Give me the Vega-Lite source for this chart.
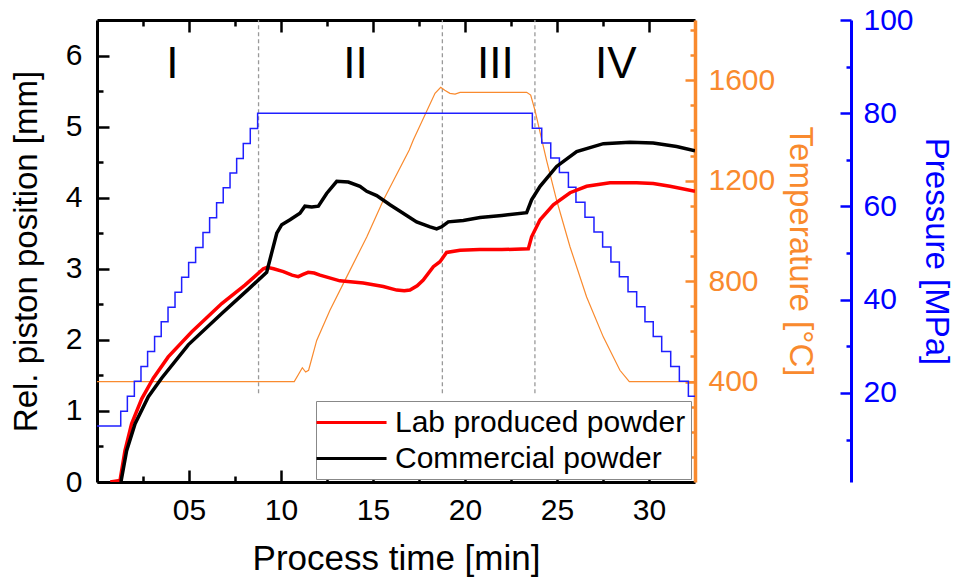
{
  "$schema": "https://vega.github.io/schema/vega-lite/v6.json",
  "width": 598,
  "height": 462,
  "autosize": {"type": "none"},
  "padding": {"left": 97, "top": 20, "right": 261, "bottom": 97},
  "background": "white",
  "config": {
    "font": "Liberation Sans",
    "view": {"stroke": null},
    "axis": {"grid": false, "labelFont": "Liberation Sans", "titleFont": "Liberation Sans", "titleFontWeight": "normal", "labelFontSize": 30, "titleFontSize": 33, "labelColor": "black", "titleColor": "black"}
  },
  "datasets": {
    "phases": [
      {"t": 8.78, "y0": 1.25, "y1": 6.5},
      {"t": 18.77, "y0": 1.25, "y1": 6.5},
      {"t": 23.8, "y0": 1.25, "y1": 6.5}
    ],
    "numerals": [
      {"t": 4.1, "y": 5.69, "label": "I"},
      {"t": 14.05, "y": 5.69, "label": "II"},
      {"t": 21.65, "y": 5.69, "label": "III"},
      {"t": 28.2, "y": 5.69, "label": "IV"}
    ],
    "piston": [
      {"s": "Lab produced powder", "t": 0.72, "v": 0},
      {"s": "Lab produced powder", "t": 1.25, "v": 0.02},
      {"s": "Lab produced powder", "t": 1.52, "v": 0.44},
      {"s": "Lab produced powder", "t": 1.88, "v": 0.82},
      {"s": "Lab produced powder", "t": 2.43, "v": 1.17},
      {"s": "Lab produced powder", "t": 3.06, "v": 1.46},
      {"s": "Lab produced powder", "t": 3.87, "v": 1.76},
      {"s": "Lab produced powder", "t": 5.14, "v": 2.11},
      {"s": "Lab produced powder", "t": 6.78, "v": 2.51},
      {"s": "Lab produced powder", "t": 8.04, "v": 2.77},
      {"s": "Lab produced powder", "t": 9.04, "v": 3.0},
      {"s": "Lab produced powder", "t": 9.25, "v": 3.02},
      {"s": "Lab produced powder", "t": 9.6, "v": 3.0},
      {"s": "Lab produced powder", "t": 10.13, "v": 2.96},
      {"s": "Lab produced powder", "t": 10.6, "v": 2.91},
      {"s": "Lab produced powder", "t": 10.94, "v": 2.89},
      {"s": "Lab produced powder", "t": 11.2, "v": 2.92},
      {"s": "Lab produced powder", "t": 11.48, "v": 2.95},
      {"s": "Lab produced powder", "t": 11.8, "v": 2.94},
      {"s": "Lab produced powder", "t": 12.12, "v": 2.91},
      {"s": "Lab produced powder", "t": 13.2, "v": 2.83},
      {"s": "Lab produced powder", "t": 14.47, "v": 2.8},
      {"s": "Lab produced powder", "t": 15.56, "v": 2.75},
      {"s": "Lab produced powder", "t": 16.29, "v": 2.7},
      {"s": "Lab produced powder", "t": 16.7, "v": 2.69},
      {"s": "Lab produced powder", "t": 17.01, "v": 2.7},
      {"s": "Lab produced powder", "t": 17.4, "v": 2.76},
      {"s": "Lab produced powder", "t": 17.73, "v": 2.84},
      {"s": "Lab produced powder", "t": 18.28, "v": 3.03},
      {"s": "Lab produced powder", "t": 18.64, "v": 3.1},
      {"s": "Lab produced powder", "t": 19.0, "v": 3.23},
      {"s": "Lab produced powder", "t": 19.73, "v": 3.26},
      {"s": "Lab produced powder", "t": 20.8, "v": 3.27},
      {"s": "Lab produced powder", "t": 22.0, "v": 3.27},
      {"s": "Lab produced powder", "t": 23.44, "v": 3.28},
      {"s": "Lab produced powder", "t": 23.62, "v": 3.45},
      {"s": "Lab produced powder", "t": 24.08, "v": 3.69},
      {"s": "Lab produced powder", "t": 24.8, "v": 3.9},
      {"s": "Lab produced powder", "t": 25.71, "v": 4.07},
      {"s": "Lab produced powder", "t": 26.61, "v": 4.16},
      {"s": "Lab produced powder", "t": 27.88, "v": 4.21},
      {"s": "Lab produced powder", "t": 29.33, "v": 4.21},
      {"s": "Lab produced powder", "t": 30.23, "v": 4.2},
      {"s": "Lab produced powder", "t": 31.14, "v": 4.16},
      {"s": "Lab produced powder", "t": 32.5, "v": 4.09},
      {"s": "Commercial powder", "t": 1.3, "v": 0.0},
      {"s": "Commercial powder", "t": 1.61, "v": 0.44},
      {"s": "Commercial powder", "t": 2.07, "v": 0.82},
      {"s": "Commercial powder", "t": 2.79, "v": 1.2},
      {"s": "Commercial powder", "t": 3.51, "v": 1.46},
      {"s": "Commercial powder", "t": 4.96, "v": 1.93},
      {"s": "Commercial powder", "t": 6.78, "v": 2.37},
      {"s": "Commercial powder", "t": 8.22, "v": 2.71},
      {"s": "Commercial powder", "t": 9.22, "v": 2.95},
      {"s": "Commercial powder", "t": 9.49, "v": 3.22},
      {"s": "Commercial powder", "t": 9.77, "v": 3.5},
      {"s": "Commercial powder", "t": 10.04, "v": 3.62},
      {"s": "Commercial powder", "t": 10.49, "v": 3.69},
      {"s": "Commercial powder", "t": 11.03, "v": 3.78},
      {"s": "Commercial powder", "t": 11.3, "v": 3.88},
      {"s": "Commercial powder", "t": 11.67, "v": 3.87},
      {"s": "Commercial powder", "t": 12.03, "v": 3.88},
      {"s": "Commercial powder", "t": 12.48, "v": 4.06},
      {"s": "Commercial powder", "t": 13.03, "v": 4.23},
      {"s": "Commercial powder", "t": 13.66, "v": 4.22},
      {"s": "Commercial powder", "t": 14.29, "v": 4.16},
      {"s": "Commercial powder", "t": 14.66, "v": 4.09},
      {"s": "Commercial powder", "t": 15.2, "v": 4.03},
      {"s": "Commercial powder", "t": 15.92, "v": 3.9},
      {"s": "Commercial powder", "t": 16.47, "v": 3.81},
      {"s": "Commercial powder", "t": 17.37, "v": 3.66},
      {"s": "Commercial powder", "t": 18.1, "v": 3.59},
      {"s": "Commercial powder", "t": 18.46, "v": 3.56},
      {"s": "Commercial powder", "t": 18.73, "v": 3.59},
      {"s": "Commercial powder", "t": 19.09, "v": 3.66},
      {"s": "Commercial powder", "t": 19.91, "v": 3.68},
      {"s": "Commercial powder", "t": 20.82, "v": 3.72},
      {"s": "Commercial powder", "t": 22.0, "v": 3.75},
      {"s": "Commercial powder", "t": 23.35, "v": 3.79},
      {"s": "Commercial powder", "t": 23.62, "v": 3.97},
      {"s": "Commercial powder", "t": 24.08, "v": 4.16},
      {"s": "Commercial powder", "t": 24.98, "v": 4.44},
      {"s": "Commercial powder", "t": 26.07, "v": 4.65},
      {"s": "Commercial powder", "t": 27.52, "v": 4.76},
      {"s": "Commercial powder", "t": 28.97, "v": 4.78},
      {"s": "Commercial powder", "t": 30.23, "v": 4.77},
      {"s": "Commercial powder", "t": 31.5, "v": 4.72},
      {"s": "Commercial powder", "t": 32.5, "v": 4.66}
    ],
    "temperature": [
      {"t": 0, "T": 400},
      {"t": 10.72, "T": 400},
      {"t": 11.16, "T": 455},
      {"t": 11.34, "T": 438},
      {"t": 11.5, "T": 445},
      {"t": 11.94, "T": 564},
      {"t": 12.66, "T": 684},
      {"t": 13.57, "T": 817},
      {"t": 14.66, "T": 976},
      {"t": 15.56, "T": 1122},
      {"t": 16.97, "T": 1322},
      {"t": 17.19, "T": 1362},
      {"t": 18.37, "T": 1548},
      {"t": 18.68, "T": 1572},
      {"t": 18.9, "T": 1560},
      {"t": 19.18, "T": 1548},
      {"t": 19.46, "T": 1545},
      {"t": 19.73, "T": 1552},
      {"t": 23.35, "T": 1552},
      {"t": 23.57, "T": 1541},
      {"t": 23.8, "T": 1481},
      {"t": 24.43, "T": 1282},
      {"t": 24.98, "T": 1122},
      {"t": 25.71, "T": 936},
      {"t": 26.61, "T": 737},
      {"t": 27.52, "T": 577},
      {"t": 28.42, "T": 445},
      {"t": 28.93, "T": 400},
      {"t": 32.5, "T": 400}
    ],
    "pressure": [
      {"t": 0, "P": 12.9},
      {"t": 1.29, "P": 16.1},
      {"t": 1.65, "P": 19.3},
      {"t": 2.03, "P": 22.5},
      {"t": 2.39, "P": 25.7},
      {"t": 2.75, "P": 28.9},
      {"t": 3.13, "P": 32.1},
      {"t": 3.49, "P": 35.3},
      {"t": 3.86, "P": 38.4},
      {"t": 4.24, "P": 41.6},
      {"t": 4.6, "P": 44.8},
      {"t": 4.98, "P": 48.0},
      {"t": 5.36, "P": 51.2},
      {"t": 5.76, "P": 54.4},
      {"t": 6.12, "P": 57.6},
      {"t": 6.5, "P": 60.8},
      {"t": 6.86, "P": 64.0},
      {"t": 7.23, "P": 67.2},
      {"t": 7.59, "P": 70.3},
      {"t": 7.95, "P": 73.5},
      {"t": 8.33, "P": 76.7},
      {"t": 8.73, "P": 80.0},
      {"t": 23.66, "P": 76.8},
      {"t": 24.17, "P": 73.6},
      {"t": 24.66, "P": 70.4},
      {"t": 25.13, "P": 67.3},
      {"t": 25.62, "P": 64.1},
      {"t": 26.03, "P": 60.9},
      {"t": 26.52, "P": 57.7},
      {"t": 27.01, "P": 54.5},
      {"t": 27.48, "P": 51.3},
      {"t": 27.93, "P": 48.1},
      {"t": 28.39, "P": 44.9},
      {"t": 28.86, "P": 41.7},
      {"t": 29.33, "P": 38.5},
      {"t": 29.78, "P": 35.3},
      {"t": 30.23, "P": 32.1},
      {"t": 30.69, "P": 28.9},
      {"t": 31.18, "P": 25.7},
      {"t": 31.65, "P": 22.5},
      {"t": 32.14, "P": 19.3},
      {"t": 32.5, "P": 19.3}
    ]
  },
  "resolve": {"scale": {"y": "independent"}, "axis": {"x": "independent", "y": "independent"}},
  "layer": [
    {
      "data": {"name": "phases"},
      "mark": {"type": "rule", "color": "#999999", "strokeDash": [4, 3], "strokeWidth": 1.3},
      "encoding": {
        "x": {"field": "t", "type": "quantitative", "scale": {"domain": [0, 32.5], "nice": false, "zero": false},
          "axis": {"orient": "top", "values": [2.5, 5, 7.5, 10, 12.5, 15, 17.5, 20, 22.5, 25, 27.5, 30], "labels": false, "title": null, "domainColor": "black", "domainWidth": 3, "tickColor": "black", "tickWidth": 2.5,
            "tickSize": {"condition": {"test": "datum.value % 5 === 0", "value": -12}, "value": -6}}},
        "y": {"field": "y0", "type": "quantitative", "scale": {"domain": [0, 6.5], "nice": false, "zero": false}, "axis": null},
        "y2": {"field": "y1"}
      }
    },
    {
      "data": {"name": "numerals"},
      "mark": {"type": "text", "fontSize": 44, "font": "Liberation Sans", "align": "center", "baseline": "alphabetic", "color": "black"},
      "encoding": {
        "x": {"field": "t", "type": "quantitative", "scale": {"domain": [0, 32.5], "nice": false, "zero": false}, "axis": null},
        "y": {"field": "y", "type": "quantitative", "scale": {"domain": [0, 6.5], "nice": false, "zero": false}, "axis": null},
        "text": {"field": "label"}
      }
    },
    {
      "data": {"name": "temperature"},
      "mark": {"type": "line", "color": "#f98a2e", "strokeWidth": 1.2, "clip": true},
      "encoding": {
        "x": {"field": "t", "type": "quantitative", "scale": {"domain": [0, 32.5], "nice": false, "zero": false}, "axis": null},
        "y": {"field": "T", "type": "quantitative", "scale": {"domain": [0, 1840], "nice": false, "zero": false},
          "axis": {"orient": "right", "values": [100, 200, 300, 400, 500, 600, 700, 800, 900, 1000, 1100, 1200, 1300, 1400, 1500, 1600, 1700, 1800], "format": "d",
            "labelExpr": "datum.value % 400 === 0 ? datum.label : ''", "title": "Temperature [°C]", "domainColor": "#f98a2e", "domainWidth": 3.5, "tickColor": "#f98a2e", "tickWidth": 2.5,
            "tickSize": {"condition": {"test": "datum.value % 400 === 0", "value": -10}, "value": -5},
            "labelColor": "#f98a2e", "titleColor": "#f98a2e", "labelPadding": 23, "titlePadding": 8}}
      }
    },
    {
      "data": {"name": "pressure"},
      "mark": {"type": "line", "color": "#1f1fff", "strokeWidth": 1.5, "interpolate": "step-after", "clip": true},
      "encoding": {
        "x": {"field": "t", "type": "quantitative", "scale": {"domain": [0, 32.5], "nice": false, "zero": false}, "axis": null},
        "y": {"field": "P", "type": "quantitative", "scale": {"domain": [0.9, 100], "nice": false, "zero": false},
          "axis": {"orient": "right", "offset": 156, "values": [10, 20, 30, 40, 50, 60, 70, 80, 90, 100], "format": "d",
            "labelExpr": "datum.value % 20 === 0 ? datum.label : ''", "title": "Pressure [MPa]", "domainColor": "#0000ff", "domainWidth": 3, "tickColor": "#0000ff", "tickWidth": 2.5,
            "tickSize": {"condition": {"test": "datum.value % 20 === 0", "value": -11}, "value": -5},
            "labelColor": "#0000ff", "titleColor": "#0000ff", "labelPadding": 23, "titlePadding": 5}}
      }
    },
    {
      "data": {"name": "piston"},
      "mark": {"type": "line", "strokeWidth": 3.5, "clip": true},
      "encoding": {
        "x": {"field": "t", "type": "quantitative", "scale": {"domain": [0, 32.5], "nice": false, "zero": false},
          "axis": {"orient": "bottom", "values": [2.5, 5, 7.5, 10, 12.5, 15, 17.5, 20, 22.5, 25, 27.5, 30],
            "labelExpr": "datum.value % 5 === 0 ? (datum.value < 10 ? '0' + datum.value : '' + datum.value) : ''",
            "title": "Process time [min]", "titleFontSize": 35, "domainColor": "black", "domainWidth": 3, "tickColor": "black", "tickWidth": 2.5,
            "tickSize": {"condition": {"test": "datum.value % 5 === 0", "value": -12}, "value": -6},
            "labelPadding": 25, "titlePadding": 16, "labelFlush": false}},
        "y": {"field": "v", "type": "quantitative", "scale": {"domain": [0, 6.5], "nice": false, "zero": false},
          "axis": {"orient": "left", "values": [0, 0.5, 1, 1.5, 2, 2.5, 3, 3.5, 4, 4.5, 5, 5.5, 6],
            "labelExpr": "datum.value % 1 === 0 ? '' + datum.value : ''", "title": "Rel. piston position [mm]", "domainColor": "black", "domainWidth": 3, "tickColor": "black", "tickWidth": 2.5,
            "tickSize": {"condition": {"test": "datum.value % 1 === 0", "value": -12}, "value": -6},
            "labelPadding": 27, "titlePadding": 22, "labelFlush": false}},
        "color": {"field": "s", "type": "nominal",
          "scale": {"domain": ["Lab produced powder", "Commercial powder"], "range": ["#ff0000", "#000000"]},
          "legend": {"orient": "none", "legendX": 219, "legendY": 381, "title": null, "symbolType": "M-1.4,0H3.27", "symbolSize": 900, "symbolStrokeWidth": 3,
            "labelFontSize": 30, "labelFont": "Liberation Sans", "labelColor": "black", "labelLimit": 500, "strokeColor": "#888888", "fillColor": "white", "padding": 5, "rowPadding": 4, "labelOffset": 41, "cornerRadius": 0}}
      }
    }
  ]
}
